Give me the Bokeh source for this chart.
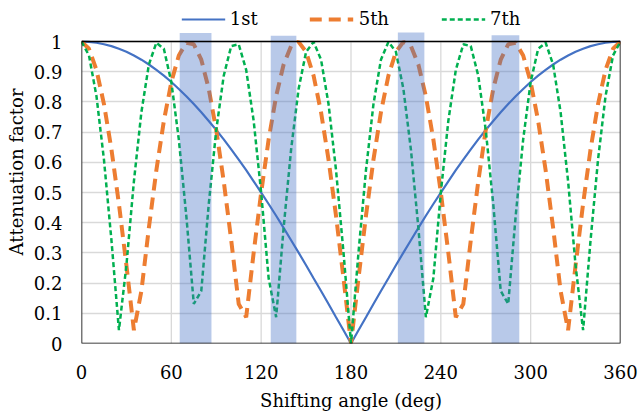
from bokeh.plotting import figure
from bokeh.models import Range1d, FixedTicker, Legend, LegendItem, ColumnDataSource
from bokeh.embed import file_html
from bokeh.resources import INLINE

# Shifting angle (deg)
angles = [0, 5, 10, 15, 20, 25, 30, 35, 40, 45, 50, 55, 60, 65, 70, 75, 80, 85, 90,
          95, 100, 105, 110, 115, 120, 125, 130, 135, 140, 145, 150, 155, 160, 165, 170, 175, 180,
          185, 190, 195, 200, 205, 210, 215, 220, 225, 230, 235, 240, 245, 250, 255, 260, 265, 270,
          275, 280, 285, 290, 295, 300, 305, 310, 315, 320, 325, 330, 335, 340, 345, 350, 355, 360]

first = [1.000, 0.999, 0.996, 0.991, 0.985, 0.976, 0.966, 0.954, 0.940, 0.924, 0.906, 0.887,
         0.866, 0.843, 0.819, 0.793, 0.766, 0.737, 0.707, 0.676, 0.643, 0.609, 0.574, 0.537,
         0.500, 0.462, 0.423, 0.383, 0.342, 0.301, 0.259, 0.216, 0.174, 0.131, 0.087, 0.044,
         0.000, 0.044, 0.087, 0.131, 0.174, 0.216, 0.259, 0.301, 0.342, 0.383, 0.423, 0.462,
         0.500, 0.537, 0.574, 0.609, 0.643, 0.676, 0.707, 0.737, 0.766, 0.793, 0.819, 0.843,
         0.866, 0.887, 0.906, 0.924, 0.940, 0.954, 0.966, 0.976, 0.985, 0.991, 0.996, 0.999, 1.000]

fifth = [1.000, 0.976, 0.906, 0.793, 0.643, 0.462, 0.259, 0.044, 0.174, 0.383, 0.574, 0.737,
         0.866, 0.954, 0.996, 0.991, 0.940, 0.843, 0.707, 0.537, 0.342, 0.131, 0.087, 0.301,
         0.500, 0.676, 0.819, 0.924, 0.985, 0.999, 0.966, 0.887, 0.766, 0.609, 0.423, 0.216,
         0.000, 0.216, 0.423, 0.609, 0.766, 0.887, 0.966, 0.999, 0.985, 0.924, 0.819, 0.676,
         0.500, 0.301, 0.087, 0.131, 0.342, 0.537, 0.707, 0.843, 0.940, 0.991, 0.996, 0.954,
         0.866, 0.737, 0.574, 0.383, 0.174, 0.044, 0.259, 0.462, 0.643, 0.793, 0.906, 0.976, 1.000]

seventh = [1.000, 0.954, 0.819, 0.609, 0.342, 0.044, 0.259, 0.537, 0.766, 0.924, 0.996, 0.976,
           0.866, 0.676, 0.423, 0.131, 0.174, 0.462, 0.707, 0.887, 0.985, 0.991, 0.906, 0.737,
           0.500, 0.216, 0.087, 0.383, 0.643, 0.843, 0.966, 0.999, 0.940, 0.793, 0.574, 0.301,
           0.000, 0.301, 0.574, 0.793, 0.940, 0.999, 0.966, 0.843, 0.643, 0.383, 0.087, 0.216,
           0.500, 0.737, 0.906, 0.991, 0.985, 0.887, 0.707, 0.462, 0.174, 0.131, 0.423, 0.676,
           0.866, 0.976, 0.996, 0.924, 0.766, 0.537, 0.259, 0.044, 0.342, 0.609, 0.819, 0.954, 1.000]

# Shaded bands (start, end, top)
band_left = [65.6, 126.4, 211.3, 273.9]
band_right = [86.8, 143.5, 229.0, 292.4]
band_top = [1.028, 1.019, 1.030, 1.021]

x_ticks = [0, 60, 120, 180, 240, 300, 360]
y_ticks = [0, 0.1, 0.2, 0.3, 0.4, 0.5, 0.6, 0.7, 0.8, 0.9, 1.0]
y_tick_labels = ["0", "0.1", "0.2", "0.3", "0.4", "0.5", "0.6", "0.7", "0.8", "0.9", "1"]

FONT = "DejaVu Serif"
FSIZE = "18px"

p = figure(width=638, height=414, output_backend="svg", toolbar_location=None,
           x_range=Range1d(0, 360), y_range=Range1d(0, 1.136),
           min_border_left=81, min_border_right=18, min_border_top=0, min_border_bottom=71)
p.outline_line_color = None
p.background_fill_color = "white"

src = ColumnDataSource(dict(x=angles, a=first, b=fifth, c=seventh))

# vertical gridlines only up to y = 1
p.xgrid.grid_line_color = None
p.segment(x0=x_ticks, y0=[y_ticks[0]] * len(x_ticks), x1=x_ticks, y1=[y_ticks[-1]] * len(x_ticks),
          line_color="#D9D9D9", line_width=1.3)
p.ygrid.grid_line_color = "#D9D9D9"
p.ygrid.grid_line_width = 1.3

r1 = p.line("x", "a", source=src, line_color="#4472C4", line_width=2.2)
r5 = p.line("x", "b", source=src, line_color="#ED7D31", line_width=4, line_dash="12 7")
r7 = p.line("x", "c", source=src, line_color="#00B050", line_width=2.5, line_dash="5 3")

# bands drawn on top, translucent
p.quad(left=band_left, right=band_right, bottom=[0] * len(band_left), top=band_top,
       fill_color="#4472C4", fill_alpha=0.38, line_color=None)

# plot box
p.quad(left=[x_ticks[0]], right=[x_ticks[-1]], bottom=[y_ticks[0]], top=[y_ticks[-1]],
       fill_color=None, line_color="black", line_width=1.5)

p.xaxis.ticker = FixedTicker(ticks=x_ticks)
p.yaxis.ticker = FixedTicker(ticks=y_ticks)
p.yaxis.major_label_overrides = {t: l for t, l in zip(y_ticks, y_tick_labels)}
p.xaxis.major_label_overrides = {t: str(t) for t in x_ticks}

for ax in (p.xaxis, p.yaxis):
    ax.axis_line_color = None
    ax.major_tick_line_color = None
    ax.minor_tick_line_color = None
    ax.major_label_text_font = FONT
    ax.major_label_text_font_size = FSIZE
    ax.major_label_text_color = "black"
    ax.axis_label_text_font = FONT
    ax.axis_label_text_font_size = FSIZE
    ax.axis_label_text_font_style = "normal"
    ax.axis_label_text_color = "black"

p.xaxis.axis_label = "Shifting angle (deg)"
p.yaxis.axis_label = "Attenuation factor"
p.yaxis.major_label_standoff = 13
p.xaxis.major_label_standoff = 15
p.yaxis.axis_label_standoff = 4
p.xaxis.axis_label_standoff = 8

legend = Legend(items=[LegendItem(label="1st", renderers=[r1]),
                       LegendItem(label="5th", renderers=[r5]),
                       LegendItem(label="7th", renderers=[r7])],
                orientation="horizontal", location="top_center")
legend.label_text_font = FONT
legend.label_text_font_size = FSIZE
legend.label_text_color = "black"
legend.glyph_width = 44
legend.glyph_height = 20
legend.label_height = 20
legend.label_standoff = 5
legend.spacing = 52
legend.padding = 0
legend.margin = 8
legend.border_line_color = None
legend.background_fill_alpha = 0
p.add_layout(legend, "center")

open("out.html", "w").write(file_html(p, INLINE))
